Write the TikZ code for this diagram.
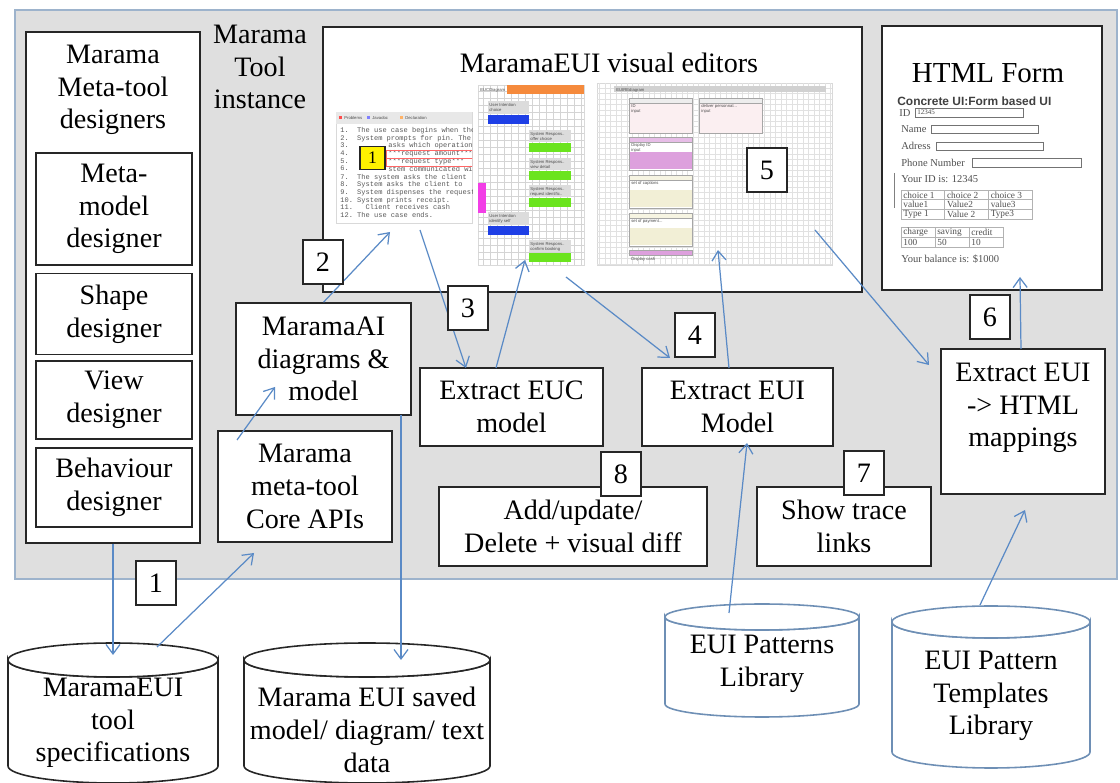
\documentclass[tikz,border=0pt]{standalone}
\usepackage{fontspec}
\setmainfont{Liberation Serif}
\setsansfont{Liberation Sans}
\setmonofont{Liberation Mono}
\usepackage{tikz}
\usetikzlibrary{arrows.meta, positioning, calc}
\definecolor{panelgray}{HTML}{DFDFDF}
\definecolor{panelline}{HTML}{9DB3CC}
\definecolor{flowblue}{HTML}{5A8AC6}
\definecolor{dbblue}{HTML}{6E8FB5}
\definecolor{gridgray}{HTML}{D4D4D4}
\definecolor{eucorange}{HTML}{F58A3C}
\definecolor{eucblue}{HTML}{1E3FE6}
\definecolor{eucgreen}{HTML}{6BE41E}
\definecolor{eucpink}{HTML}{F23EE6}
\definecolor{euiblush}{HTML}{FBEFF1}
\definecolor{euimauve}{HTML}{DDA0DD}
\definecolor{euicream}{HTML}{F2EFD6}
\definecolor{labelgray}{HTML}{DCDCDC}
\definecolor{formtext}{HTML}{505050}

\begin{document}
\begin{tikzpicture}[
        x=0.02cm, y=-0.02cm,
        box/.style={
            rectangle,
            draw=black!85,
            fill=white,
            line width=0.9pt,
            align=center,
            inner sep=0pt,
            font=\rmfamily\fontsize{16}{18.6}\selectfont
        },
        txt/.style={align=center, inner sep=0pt, font=\rmfamily\fontsize{16}{18.6}\selectfont},
        numbox/.style={box, minimum width=0.8cm, minimum height=0.88cm},
        flow/.style={draw=flowblue, line width=0.7pt, -{Straight Barb[length=1.9mm, width=2.8mm]}},
        dbase/.style={draw=#1, line width=0.9pt, fill=white},
        shot/.style={rectangle, draw=black!15, fill=white, inner sep=0pt},
        scrtext/.style={inner sep=0pt, anchor=north west, align=left, font=\sffamily\fontsize{2.4}{2.8}\selectfont, text=black!70},
        codetext/.style={inner sep=0pt, anchor=north west, align=left, font=\ttfamily\fontsize{4}{4.4}\selectfont, text=black!65},
        formlbl/.style={inner sep=0pt, anchor=west, font=\rmfamily\fontsize{6}{7}\selectfont, text=formtext},
        formcell/.style={inner sep=0pt, anchor=west, font=\rmfamily\fontsize{5.3}{6}\selectfont, text=formtext},
        field/.style={draw=black!55, line width=0.4pt, fill=white}
    ]
    \useasboundingbox (0,0) rectangle (1120,783);

    % Marama tool instance (grey panel)
    \node[draw=panelline, fill=panelgray, line width=0.8pt, minimum width=22.04cm, minimum height=11.38cm, inner sep=0pt] (toolpanel) at (566,294.5) {};
    \node[txt] (toolinst) at (260,67) {Marama\\Tool\\instance};

    % Meta-tool designers
    \node[box, minimum width=3.48cm, minimum height=10.22cm] (designers) at (113,287.5) {};
    \node[txt] (designtitle) at (113,90) {Marama\\Meta-tool\\designers};
    \node[box, minimum width=3.12cm, minimum height=2.24cm] (metamodel) at (114,209) {Meta-\\model\\designer};
    \node[box, minimum width=3.12cm, minimum height=1.62cm] (shapedes) at (114,314) {Shape\\designer};
    \node[box, minimum width=3.12cm, minimum height=1.56cm] (viewdes) at (114,400) {View\\designer};
    \node[box, minimum width=3.12cm, minimum height=1.58cm] (behavdes) at (114,487.5) {Behaviour\\designer};

    % Visual editors
    \node[box, minimum width=10.78cm, minimum height=5.3cm] (editors) at (592.5,159.5) {};
    \node[txt] (edtitle) at (609,63) {MaramaEUI visual editors};

    % use case text editor
    \node[shot, minimum width=2.72cm, minimum height=2.22cm] (usecase) at (404,167.5) {};
    \fill[black!9] (336,112) rectangle (472,124);
    \node[scrtext] (tabprob) at (344,116) {Problems};
    \node[scrtext] (tabdoc) at (372,116) {Javadoc};
    \node[scrtext] (tabdecl) at (405,116) {Declaration};
    \fill[red!70] (339,116) rectangle (342,119);
    \fill[blue!50] (367,116) rectangle (370,119);
    \fill[orange!60] (400,116) rectangle (403,119);
    \begin{scope}
        \clip (336,125) rectangle (472,223);
        \node[codetext] (uctop) at (340,127) {%
            1.\ \ The use case begins when the\\
            2.\ \ System prompts for pin. The};
        \node[codetext] (ucnums) at (340,142.5) {3.\\4.\\5.\\6.};
        \node[codetext] (ucmid) at (388,142.5) {%
            asks which operation\\
            ***request amount***\\
            ***request type***\\
            stem communicated with};
        \node[codetext] (ucend) at (340,173.6) {%
            7.\ \ The system asks the client\\
            8.\ \ System asks the client to\\
            9.\ \ System dispenses the request\\
            10. System prints receipt.\\
            11.\ \ \ Client receives cash\\
            12. The use case ends.};
        \draw[red!60, line width=0.3pt] (386,150) rectangle (472,158);
        \draw[red!60, line width=0.3pt] (386,158) rectangle (472,166);
    \end{scope}
    \node[box, fill=yellow, line width=0.7pt, minimum width=0.5cm, minimum height=0.46cm, font=\rmfamily\fontsize{10}{12}\selectfont] (ucmark) at (372.5,158) {1};

    % EUC diagram
    \node[shot, minimum width=2.12cm, minimum height=3.6cm] (eucshot) at (531,175) {};
    \begin{scope}
        \clip (478,85) rectangle (584,265);
        \draw[gridgray, line width=0.2pt, step=0.14cm] (478,85) grid (584,265);
    \end{scope}
    \fill[eucorange] (507,85) rectangle (584,94);
    \node[scrtext] (euchead) at (480,88) {EUCDiagram};
    \foreach \ya/\lbl in {101/{User Intention\\choice}, 212/{User Intention\\identify self}} {
        \fill[labelgray] (488,\ya) rectangle (529,\ya+13);
        \node[scrtext] at (489,\ya+2) {\lbl};
        \fill[eucblue] (488,\ya+14) rectangle (529,\ya+23);
    }
    \foreach \ya/\lbl in {130/{System Respons..\\offer choice}, 158/{System Respons..\\view detail}, 185/{System Respons..\\request identific..}, 240/{System Respons..\\confirm booking}} {
        \fill[labelgray] (529,\ya) rectangle (571,\ya+12);
        \node[scrtext] at (530,\ya+2) {\lbl};
        \fill[eucgreen] (529,\ya+13) rectangle (571,\ya+22);
    }
    \fill[eucpink] (478,183) rectangle (486,213);

    % EUI diagram
    \node[shot, minimum width=4.7cm, minimum height=3.64cm] (euishot) at (714.5,174) {};
    \begin{scope}
        \clip (597,83) rectangle (832,265);
        \draw[gridgray!70, line width=0.2pt, step=0.11cm] (597,83) grid (832,265);
    \end{scope}
    \fill[black!18] (614,86) rectangle (826,92);
    \node[scrtext] (euihead) at (616,88) {EUIREdiagram};
    \foreach \xa/\lbl in {629/{ID\\input}, 699/{deliver personnal...\\input}} {
        \filldraw[fill=euiblush, draw=black!35, line width=0.3pt] (\xa,103) rectangle (\xa+63,133);
        \filldraw[fill=black!7, draw=black!35, line width=0.3pt] (\xa,98) rectangle (\xa+63,103);
        \node[scrtext] at (\xa+2,104) {\lbl};
    }
    \foreach \ya/\col/\lbl in {137/euimauve/{Display ID\\input}, 175/euicream/{set of captions}, 213/euicream/{set of payment...}} {
        \filldraw[fill=white, draw=black!35, line width=0.3pt] (629,\ya+5) rectangle (692,\ya+33);
        \fill[\col] (629.5,\ya+15) rectangle (691.5,\ya+32.5);
        \filldraw[fill=\col!70, draw=black!35, line width=0.3pt] (629,\ya) rectangle (692,\ya+5);
        \node[scrtext] at (631,\ya+6) {\lbl};
    }
    \filldraw[fill=euimauve, draw=black!35, line width=0.3pt] (629,250) rectangle (692,255);
    \node[scrtext] (euicash) at (631,257) {Display cash};

    % HTML form
    \node[box, minimum width=4.4cm, minimum height=5.28cm] (htmlform) at (992,158) {};
    \node[txt, font=\rmfamily\fontsize{16.5}{19}\selectfont] (htmltitle) at (988,73) {HTML Form};
    \node[inner sep=0pt, anchor=west, font=\sffamily\bfseries\fontsize{6.8}{7.5}\selectfont, text=black!75] (formhead) at (897,101) {Concrete UI:Form based UI};
    \node[formlbl] (fid) at (899,113) {ID};
    \draw[field] (915,108) rectangle (1023,117);
    \node[scrtext, anchor=west, font=\rmfamily\fontsize{4}{5}\selectfont] (fidval) at (917,112.5) {12345};
    \node[formlbl] (fname) at (901,129) {Name};
    \draw[field] (931,125) rectangle (1038,133);
    \node[formlbl] (faddr) at (901,146) {Adress};
    \draw[field] (936,142) rectangle (1043,150);
    \node[formlbl] (fphone) at (901,163) {Phone Number};
    \draw[field] (972,158) rectangle (1081,167);
    \node[formlbl] (fyourid) at (901,179) {Your ID is: 12345};
    \draw[black!50, line width=0.4pt] (894,173) -- (894,208);
    \foreach \row [count=\r from 0] in {{choice 1,choice 2,choice 3},{value1,Value2,value3},{Type 1,Value 2,Type3}} {
        \foreach \cell [count=\c from 0] in \row {
            \draw[black!30, line width=0.3pt] (901+43.7*\c,190+9.7*\r) rectangle +(43.7,9.7);
            \node[formcell] at (903+43.7*\c,194.85+9.7*\r) {\cell};
        }
    }
    \foreach \row [count=\r from 0] in {{charge,saving,credit},{100,50,10}} {
        \foreach \cell [count=\c from 0] in \row {
            \draw[black!30, line width=0.3pt] (901+34*\c,227+10*\r) rectangle +(34,10);
            \node[formcell] at (903+34*\c,232+10*\r) {\cell};
        }
    }
    \node[formlbl] (fbalance) at (901,259) {Your balance is: \$1000};

    % tool components
    \node[box, minimum width=3.5cm, minimum height=2.24cm] (ai) at (323.5,359) {MaramaAI\\diagrams \&\\model};
    \node[box, minimum width=3.48cm, minimum height=2.22cm] (core) at (305,486.5) {Marama\\meta-tool\\Core APIs};
    \node[box, minimum width=3.66cm, minimum height=1.56cm] (euc) at (511.5,407) {Extract EUC\\model};
    \node[box, minimum width=3.82cm, minimum height=1.56cm] (eui) at (737.5,407) {Extract EUI\\Model};
    \node[box, minimum width=5.36cm, minimum height=1.58cm] (addupd) at (573,526.5) {Add/update/\\Delete + visual diff};
    \node[box, minimum width=3.48cm, minimum height=1.58cm] (trace) at (844,526.5) {Show trace\\links};
    \node[box, minimum width=3.28cm, minimum height=2.9cm] (htmlmap) at (1023,421.5) {};
    \node[txt] (htmlmaptxt) at (1023,408) {Extract EUI\\-> HTML\\mappings};

    % repositories
    \foreach \cx/\cy/\rx/\ry/\h/\col in {113/660/105/17/106/black!85, 367/660/123/17/106/black!85, 762/617/97/13/87/dbblue, 991/622/99/16/130/dbblue} {
        \filldraw[dbase=\col] (\cx-\rx,\cy) -- (\cx-\rx,\cy+\h)
            arc[start angle=180, end angle=0, x radius=\rx, y radius=\ry]
            -- (\cx+\rx,\cy)
            arc[start angle=0, end angle=180, x radius=\rx, y radius=\ry] -- cycle;
        \filldraw[dbase=\col] (\cx,\cy) ellipse[x radius=\rx, y radius=\ry];
    }
    \node[txt] (specdb) at (113,723) {MaramaEUI\\tool\\specifications};
    \node[txt] (saveddb) at (367,730) {Marama EUI saved\\model/ diagram/ text\\data};
    \node[txt] (patlib) at (762,664) {EUI Patterns\\Library};
    \node[txt] (tmpllib) at (991,696) {EUI Pattern\\Templates\\Library};

    % connector ends
    \coordinate (specin) at (113,655);
    \coordinate (specout) at (157,647);
    \coordinate (corein) at (254,553);
    \coordinate (coreout) at (237,440);
    \coordinate (aiin) at (275,387);
    \coordinate (ucin) at (390,232);
    \coordinate (ucout) at (420,230);
    \coordinate (eucin) at (466,368);
    \coordinate (eucout) at (496,368);
    \coordinate (eucshotin) at (525,260);
    \coordinate (eucshotout) at (566,277);
    \coordinate (euiin) at (670,358);
    \coordinate (euiout) at (729,368);
    \coordinate (euishotin) at (718,250);
    \coordinate (euishotout) at (815,230);
    \coordinate (mapin) at (929,365);
    \coordinate (mapout) at (1021,349);
    \coordinate (formin) at (1020,277);
    \coordinate (aidown) at (401,415);
    \coordinate (savedin) at (401,660);
    \coordinate (patout) at (729,613);
    \coordinate (euibelow) at (747,443);
    \coordinate (tmplout) at (980,605);
    \coordinate (mapbelow) at (1025,510);

    % flows
    \draw[flow] (designers.south) -- (specin);
    \draw[flow] (specout) -- (corein);
    \draw[flow] (coreout) -- (aiin);
    \draw[flow] (ai.north) -- (ucin);
    \draw[flow] (ucout) -- (eucin);
    \draw[flow] (eucout) -- (eucshotin);
    \draw[flow] (eucshotout) -- (euiin);
    \draw[flow] (euiout) -- (euishotin);
    \draw[flow] (euishotout) -- (mapin);
    \draw[flow] (mapout) -- (formin);
    \draw[flow] (aidown) -- (savedin);
    \draw[flow] (patout) -- (euibelow);
    \draw[flow] (tmplout) -- (mapbelow);

    % step numbers
    \foreach \n/\px/\py in {1/156/583, 2/323/262, 3/468/308, 4/695/335, 5/767/170, 6/990/317, 7/864/473, 8/621/474}
        \node[numbox] (step\n) at (\px,\py) {\n};

\end{tikzpicture}
\end{document}
